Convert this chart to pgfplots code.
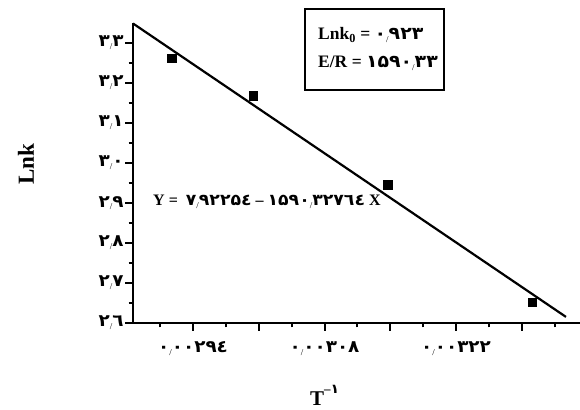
\documentclass[border=0pt]{standalone}
\usepackage{fontspec}
\setmainfont{Liberation Serif}
\newfontfamily\ar[FakeStretch=1.08]{DejaVu Sans}
\usepackage{pgfplots}
\pgfplotsset{compat=1.18}
\newcommand\ds{\raisebox{-0.3ex}{\fontsize{9}{9}\selectfont\mdseries\rmfamily /}}
\begin{document}
\begin{tikzpicture}[x=1pt,y=1pt]
\useasboundingbox (0,0) rectangle (580,409);
\begin{axis}[
  at={(133pt,86pt)}, anchor=south west,
  scale only axis, width=447pt, height=300pt,
  xmin=0.002876, xmax=0.003352, ymin=2.6, ymax=3.35,
  axis x line=bottom, axis y line=left,
  axis line style={-, line width=2.5pt},
  xtick={0.00294,0.00301,0.00308,0.00315,0.00322,0.00329},
  xticklabels={٠\ds٠٠٢٩٤,{},٠\ds٠٠٣٠٨,{},٠\ds٠٠٣٢٢,{}},
  minor xtick={0.002905,0.002975,0.003045,0.003115,0.003185,0.003255,0.003325},
  ytick={2.6,2.7,2.8,2.9,3.0,3.1,3.2,3.3},
  yticklabels={٢\ds٦,٢\ds٧,٢\ds٨,٢\ds٩,٣\ds٠,٣\ds١,٣\ds٢,٣\ds٣},
  minor ytick={2.65,2.75,2.85,2.95,3.05,3.15,3.25},
  tick align=outside,
  major tick length=8pt, minor tick length=4.5pt,
  every tick/.style={line width=2pt, black},
  ticklabel style={font={\ar\bfseries\fontsize{17}{19}\selectfont}},
  yticklabel style={xshift=2pt},
  xticklabel style={yshift=-7pt},
  scaled x ticks=false,
  clip=false,
]
\addplot[black, line width=2.2pt, no marks] coordinates {(0.002876,3.3488) (0.003337,2.6153)};
\addplot[only marks, mark=square*, mark size=4.3pt, black] coordinates {
  (0.002917,3.262) (0.003004,3.168) (0.003147,2.945) (0.003301,2.652)};
\end{axis}
\node[rotate=90, inner sep=0] at (26,245) {\bfseries\fontsize{23}{26}\selectfont Lnk};
\node[anchor=base west, inner sep=0] at (310,4) {\bfseries\fontsize{21}{24}\selectfont T\raisebox{0.55em}{\fontsize{13}{13}\selectfont –{\ar ١}}};
\node[anchor=base west, inner sep=0] at (153,203) {\bfseries\fontsize{16}{18}\selectfont Y = \ {\ar ٧\ds٩٢٢۵٤} – {\ar ١۵٩٠\ds٣٢٧٦٤} X};
\draw[line width=2pt] (305,319) rectangle (444,400);
\node[anchor=base west, inner sep=0] at (318,369) {\bfseries\fontsize{17.5}{20}\selectfont Lnk\textsubscript{0} = {\ar ٠\ds٩٢٣}};
\node[anchor=base west, inner sep=0] at (318,341) {\bfseries\fontsize{17.5}{20}\selectfont E/R = {\ar ١۵٩٠\ds٣٣}};
\end{tikzpicture}
\end{document}
